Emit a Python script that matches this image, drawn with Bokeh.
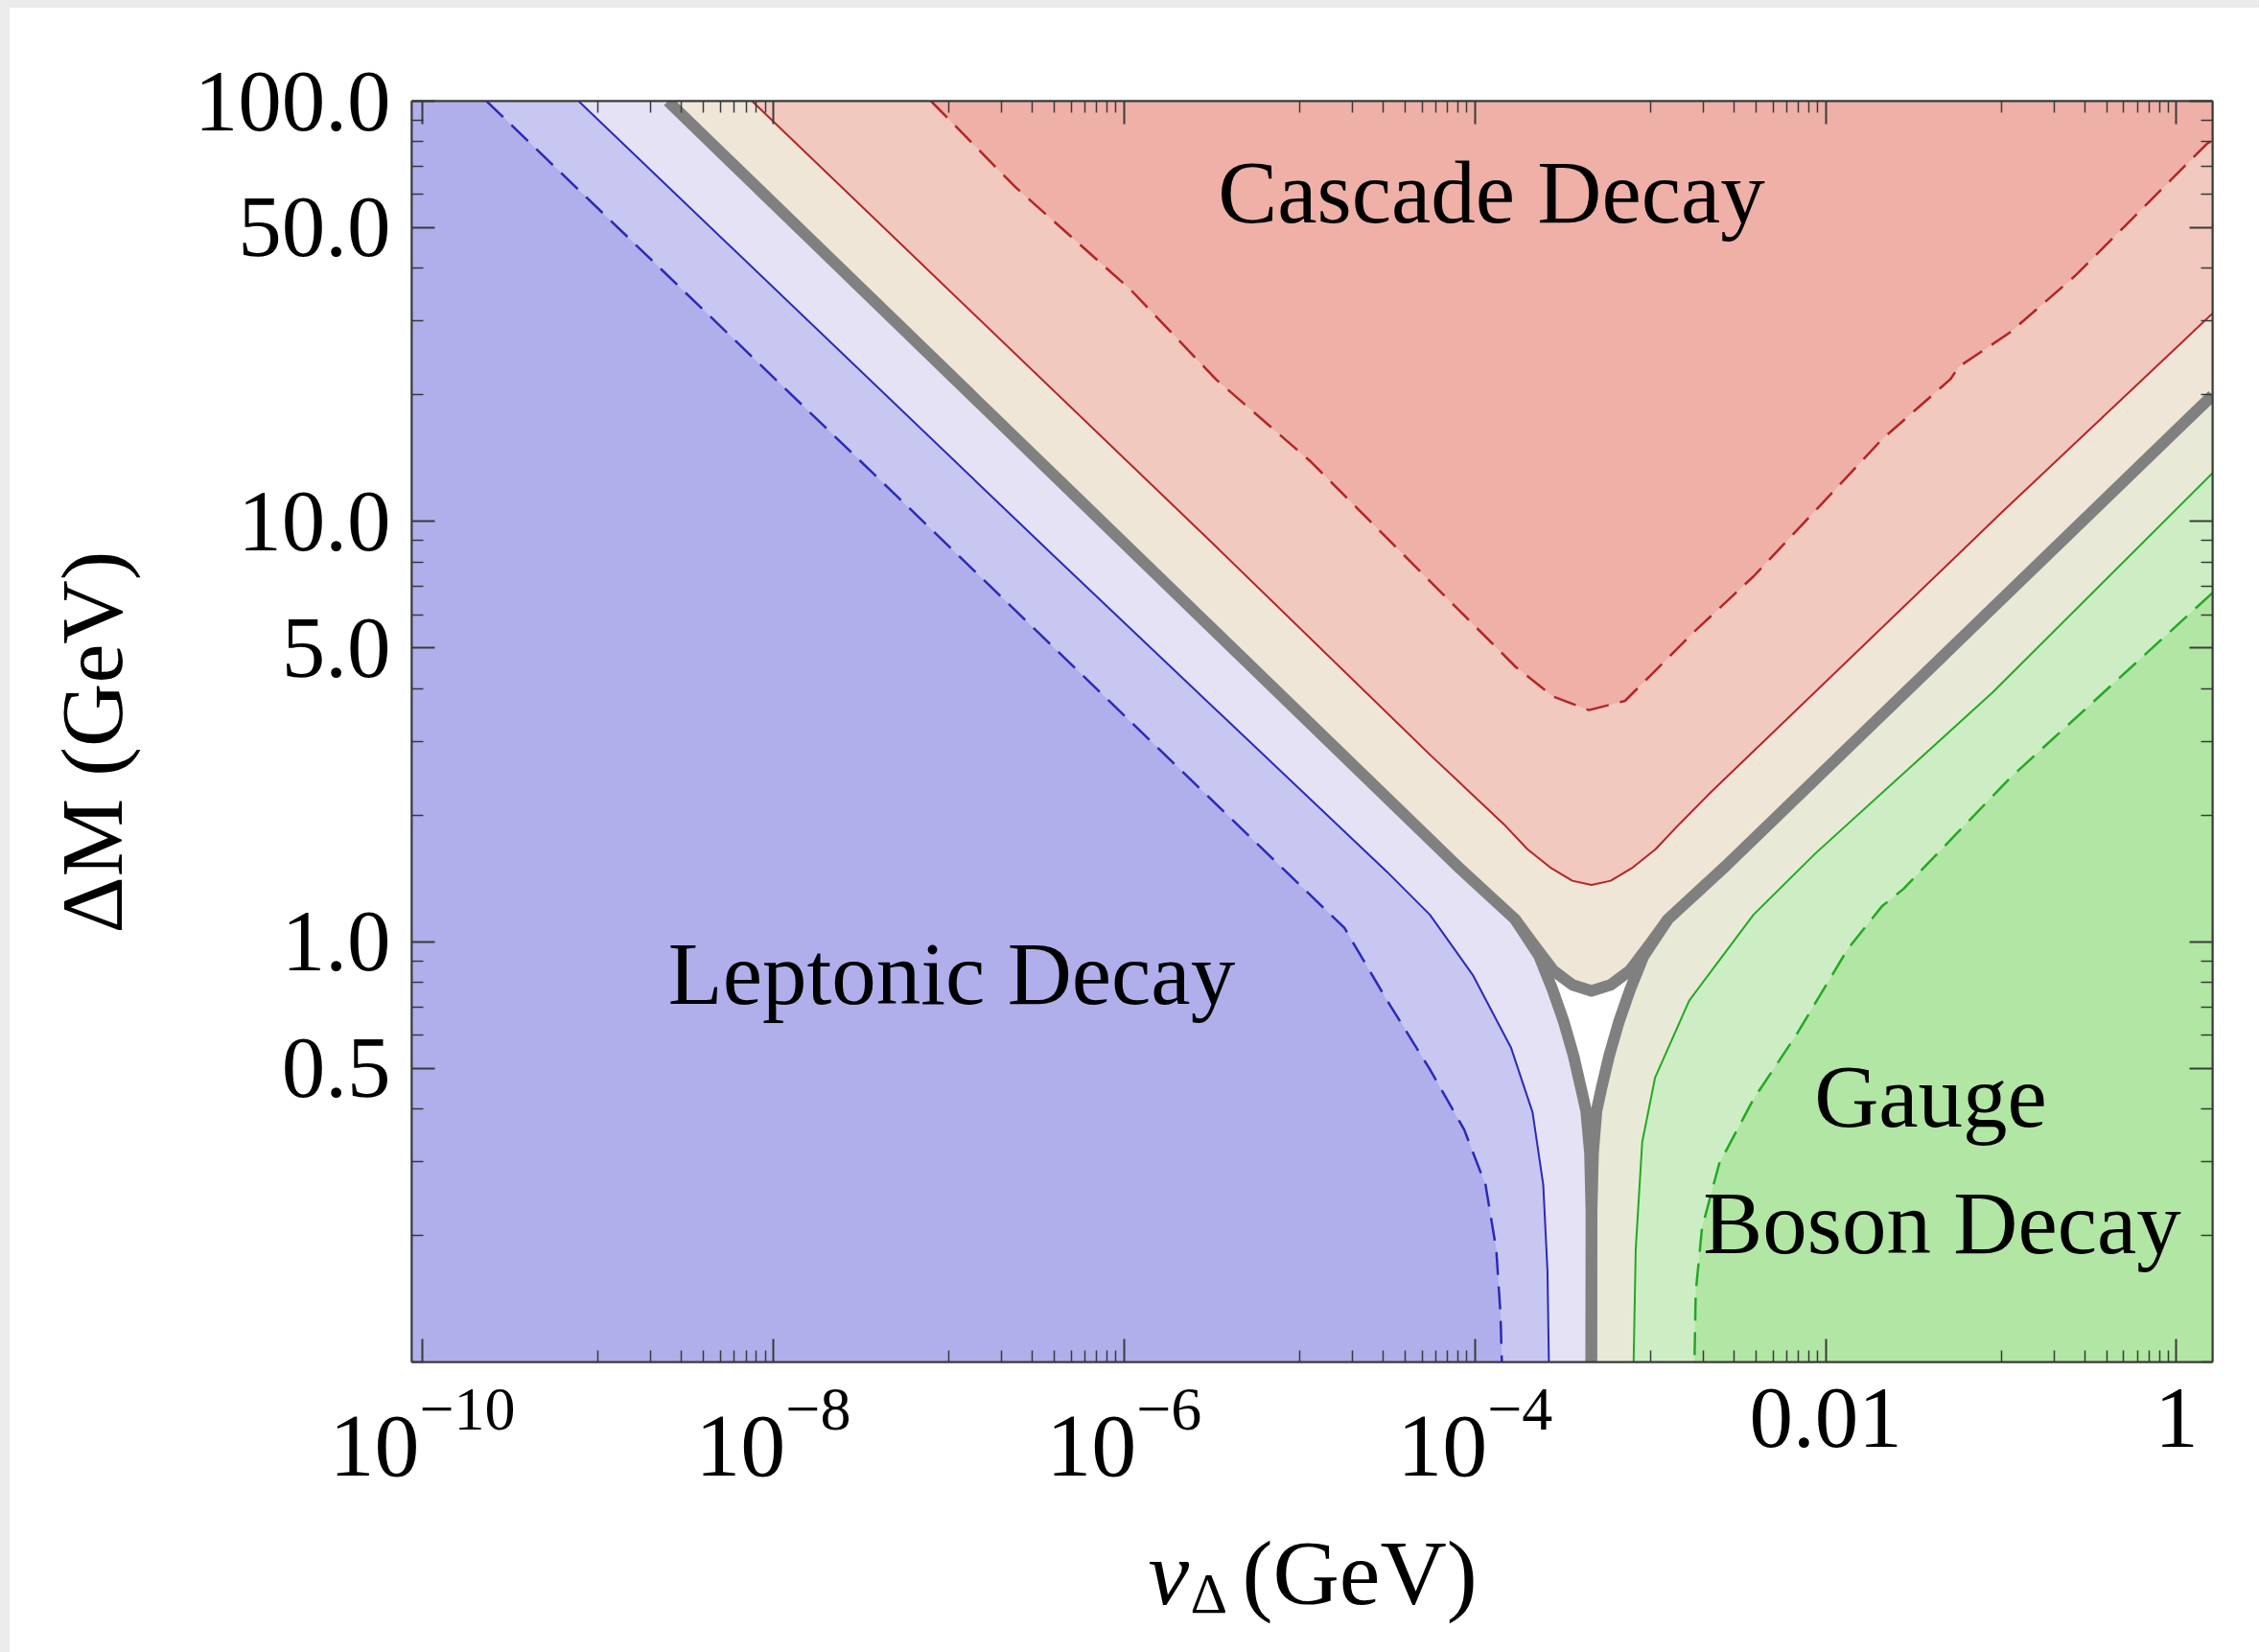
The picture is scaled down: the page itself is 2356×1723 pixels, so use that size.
import math
from bokeh.plotting import figure
from bokeh.models import Range1d, FixedTicker, LogAxis, Label, Spacer, CustomJSTickFormatter
from bokeh.core.properties import value
from bokeh.layouts import column, row
from bokeh.embed import file_html
from bokeh.resources import INLINE

# ---------------------------------------------------------------------------
# Branching-ratio contours of the doubly charged scalar, given as
# (log10 v_Delta / GeV, log10 Delta M / GeV) along each curve.
# ---------------------------------------------------------------------------
# leptonic decay: dashed (higher level) and solid contour
LEP_DASH_X = [-9.634, -7.200, -4.744, -4.500, -4.256, -4.061, -3.939, -3.878, -3.854, -3.846]
LEP_DASH_Y = [2.0, 1.022, 0.033, -0.140, -0.304, -0.447, -0.579, -0.732, -0.885, -1.0]
LEP_SOLID_X = [-9.109, -6.393, -4.500, -4.256, -4.012, -3.793, -3.671, -3.610, -3.586, -3.578]
LEP_SOLID_Y = [2.0, 0.915, 0.166, 0.064, -0.079, -0.253, -0.406, -0.579, -0.783, -1.0]

# cascade decay: solid and dashed contour
CAS_SOLID_X = [-8.12, -5.50, -4.256, -3.836, -3.70, -3.565, -3.444, -3.335,
               -3.226, -3.105, -2.97, -2.834, -2.656, -1.0, 0.205]
CAS_SOLID_Y = [2.0, 0.95, 0.445, 0.280, 0.220, 0.175, 0.145, 0.135,
               0.145, 0.175, 0.220, 0.280, 0.355, 1.02, 1.495]
CAS_DASH_X = [-7.10, -6.623, -5.964, -5.476, -4.940, -4.500, -4.012, -3.768, -3.552,
              -3.350, -3.144, -2.998, -2.754, -2.412, -2.022, -1.680, -1.290, -1.241, -0.948,
              -0.582, -0.289, 0.174, 0.205]
CAS_DASH_Y = [2.0, 1.797, 1.552, 1.338, 1.144, 0.960, 0.756, 0.654, 0.583,
              0.551, 0.573, 0.634, 0.736, 0.869, 1.042, 1.195, 1.338, 1.368, 1.450,
              1.583, 1.705, 1.899, 1.906]

# gauge boson decay: solid and dashed contour
GAU_SOLID_X = [0.205, -1.046, -2.059, -2.412, -2.778, -2.973, -3.046, -3.083, -3.095]
GAU_SOLID_Y = [1.115, 0.594, 0.210, 0.064, -0.140, -0.324, -0.477, -0.732, -1.0]
GAU_DASH_X = [0.205, -0.948, -1.558, -1.680, -1.875, -2.168, -2.412, -2.607,
              -2.705, -2.741, -2.748]
GAU_DASH_Y = [0.830, 0.390, 0.125, 0.084, -0.018, -0.222, -0.375, -0.528,
              -0.681, -0.834, -1.0]

# 50% lines of the three channels (thick grey)
GRAY_L_ARM_X = [-8.60, -4.10, -3.77]
GRAY_L_ARM_Y = [2.0, 0.18, 0.053]
GRAY_L_STEM_X = [-3.634, -3.557, -3.492, -3.437, -3.394, -3.366, -3.344, -3.336, -3.336]
GRAY_L_STEM_Y = [-0.034, -0.114, -0.192, -0.272, -0.350, -0.402, -0.503, -0.640, -1.0]
GRAY_CAP_X = [-3.77, -3.661, -3.552, -3.443, -3.335, -3.227, -3.117, -3.008, -2.90]
GRAY_CAP_Y = [0.053, -0.009, -0.069, -0.103, -0.117, -0.103, -0.069, -0.009, 0.053]
GRAY_R_ARM_X = [0.205, -2.57, -2.90]
GRAY_R_ARM_Y = [1.30, 0.18, 0.053]
GRAY_R_STEM_X = [-3.038, -3.115, -3.180, -3.235, -3.279, -3.306, -3.326, -3.334, -3.336]
GRAY_R_STEM_Y = [-0.034, -0.114, -0.192, -0.272, -0.350, -0.402, -0.503, -0.640, -1.0]

# axes
LOGV_MIN, LOGV_MAX = -10.06, 0.205
M_MIN, M_MAX = 0.1, 100.0
X_TICKS = [1e-10, 1e-8, 1e-6, 1e-4, 1e-2, 1.0]
X_TICK_BASE = ["10", "10", "10", "10", "0.01", "1"]
X_TICK_EXP = ["\u221210", "\u22128", "\u22126", "\u22124", "", ""]
X_MINOR = [j * 10.0 ** k for k in (-9, -7, -5, -3, -1) for j in range(1, 10)]
Y_TICKS = [0.5, 1.0, 5.0, 10.0, 50.0, 100.0]
Y_TICK_TEXT = ["0.5", "1.0", "5.0", "10.0", "50.0", "100.0"]
Y_MINOR = [j * 10.0 ** k for k in (-1, 0, 1) for j in range(1, 10) if j not in (1, 5)] + [0.1]

# ---------------------------------------------------------------------------
# page geometry (pixels)
PAGE_W, PAGE_H = 2356, 1723
EDGE_L, EDGE_T = 10, 8
TITLE_W = 160                 # strip holding the vertical axis title
MAIN_B = 1424                 # lower edge of the main figure
FRAME_L, FRAME_T, FRAME_R, FRAME_B = 429, 105, 2307, 1420
PX_PER_DEC_X = (FRAME_R - FRAME_L) / (LOGV_MAX - LOGV_MIN)
FONT = "Liberation Serif"


def drop(size):
    # distance the renderer places an alphabetic baseline below its anchor
    return 0.2 * size + 13


def tick_page_x(t):
    return FRAME_L + (math.log10(t) - LOGV_MIN) * PX_PER_DEC_X


def xdata(px):
    return 10 ** (LOGV_MIN + (px - FRAME_L) / PX_PER_DEC_X)


def ydata(py):
    lo, hi = math.log10(M_MIN), math.log10(M_MAX)
    return 10 ** (hi - (py - FRAME_T) * (hi - lo) / (FRAME_B - FRAME_T))


def lin(seq):
    return [10 ** s for s in seq]


FAR_L, FAR_R, FAR_B, FAR_T = -11.5, 1.0, -1.5, 2.5


def left_of(cx, cy):
    return cx + [cx[-1], FAR_L, FAR_L, cx[0]], cy + [FAR_B, FAR_B, FAR_T, FAR_T]


def above(cx, cy):
    return cx + [FAR_R, FAR_R, cx[0]], cy + [cy[-1], FAR_T, FAR_T]


def right_of(cx, cy):
    return cx + [cx[-1], FAR_R, FAR_R], cy + [FAR_B, FAR_B, cy[0]]


main_x0 = EDGE_L + TITLE_W
main = figure(width=PAGE_W - main_x0, height=MAIN_B - EDGE_T, x_axis_type="log", y_axis_type="log",
              x_range=Range1d(10 ** LOGV_MIN, 10 ** LOGV_MAX), y_range=Range1d(M_MIN, M_MAX),
              output_backend="svg", toolbar_location=None,
              min_border_left=FRAME_L - main_x0, min_border_right=PAGE_W - FRAME_R,
              min_border_top=FRAME_T - EDGE_T, min_border_bottom=MAIN_B - FRAME_B)
main.background_fill_color = "white"
main.border_fill_color = "white"
main.outline_line_color = "#3a3a3a"
main.outline_line_width = 2
main.xgrid.visible = False
main.ygrid.visible = False

# --- shaded regions --------------------------------------------------------
gray_left_x = GRAY_L_ARM_X + GRAY_L_STEM_X
gray_left_y = GRAY_L_ARM_Y + GRAY_L_STEM_Y
gray_right_x = GRAY_R_ARM_X + GRAY_R_STEM_X
gray_right_y = GRAY_R_ARM_Y + GRAY_R_STEM_Y
cas_edge_x = GRAY_L_ARM_X + GRAY_CAP_X[1:-1] + GRAY_R_ARM_X[::-1]
cas_edge_y = GRAY_L_ARM_Y + GRAY_CAP_Y[1:-1] + GRAY_R_ARM_Y[::-1]

regions = [
    (left_of(gray_left_x, gray_left_y), "#e4e2f4"),
    (left_of(LEP_SOLID_X, LEP_SOLID_Y), "#c8c7f1"),
    (left_of(LEP_DASH_X, LEP_DASH_Y), "#b0afec"),
    (above(cas_edge_x, cas_edge_y), "#f0e6d8"),
    (above(CAS_SOLID_X, CAS_SOLID_Y), "#f1c9be"),
    (above(CAS_DASH_X, CAS_DASH_Y), "#efb0a7"),
    (right_of(gray_right_x, gray_right_y), "#e8ead7"),
    (right_of(GAU_SOLID_X, GAU_SOLID_Y), "#cdeec4"),
    (right_of(GAU_DASH_X, GAU_DASH_Y), "#b2e6a4"),
]
for (rx, ry), col in regions:
    main.patch(lin(rx), lin(ry), fill_color=col, line_color=None)

# --- contour lines -----------------------------------------------------------
BLUE, RED, GREEN, GREY = "#2a2ab8", "#b42525", "#23a823", "#808080"
main.line(lin(LEP_DASH_X), lin(LEP_DASH_Y), line_color=BLUE, line_width=2.5, line_dash="24 12")
main.line(lin(LEP_SOLID_X), lin(LEP_SOLID_Y), line_color=BLUE, line_width=2)
main.line(lin(CAS_DASH_X), lin(CAS_DASH_Y), line_color=RED, line_width=2.5, line_dash="24 12")
main.line(lin(CAS_SOLID_X), lin(CAS_SOLID_Y), line_color=RED, line_width=2)
main.line(lin(GAU_DASH_X), lin(GAU_DASH_Y), line_color=GREEN, line_width=2.5, line_dash="24 12")
main.line(lin(GAU_SOLID_X), lin(GAU_SOLID_Y), line_color=GREEN, line_width=2)
for gx, gy in ((gray_left_x, gray_left_y), (gray_right_x, gray_right_y), (GRAY_CAP_X, GRAY_CAP_Y)):
    main.line(lin(gx), lin(gy), line_color=GREY, line_width=12, line_join="round")

# --- axes and frame ticks ----------------------------------------------------
TICK_COL = "#3a3a3a"
blank = CustomJSTickFormatter(code="return ''")


def style_axis(ax, ticker, labels=False):
    ax.ticker = ticker
    ax.axis_line_color = TICK_COL
    ax.axis_line_width = 2
    ax.major_tick_line_color = TICK_COL
    ax.major_tick_line_width = 2
    ax.minor_tick_line_color = TICK_COL
    ax.minor_tick_line_width = 1.5
    ax.major_tick_in = 24
    ax.major_tick_out = 0
    ax.minor_tick_in = 12
    ax.minor_tick_out = 0
    if not labels:
        ax.formatter = blank
        ax.major_label_standoff = 0
        ax.major_label_text_font_size = "1px"


style_axis(main.xaxis[0], FixedTicker(ticks=X_TICKS, minor_ticks=X_MINOR))
style_axis(main.yaxis[0], FixedTicker(ticks=Y_TICKS, minor_ticks=Y_MINOR), labels=True)
yax = main.yaxis[0]
yax.major_label_overrides = {t: s for t, s in zip(Y_TICKS, Y_TICK_TEXT)}
yax.major_label_text_font = FONT
yax.major_label_text_font_size = "91px"
yax.major_label_text_color = "black"
yax.major_label_standoff = 22

top_ax = LogAxis()
style_axis(top_ax, FixedTicker(ticks=X_TICKS, minor_ticks=X_MINOR))
main.add_layout(top_ax, "above")
right_ax = LogAxis()
style_axis(right_ax, FixedTicker(ticks=Y_TICKS, minor_ticks=Y_MINOR))
main.add_layout(right_ax, "right")

# region names (centre x, baseline y in page pixels)
REGION_FS = 93
for txt, cx, by in (("Cascade Decay", 1555, 232), ("Leptonic Decay", 992, 1047),
                    ("Gauge", 2013, 1175), ("Boson Decay", 2025, 1307)):
    main.add_layout(Label(x=xdata(cx), y=ydata(by - drop(REGION_FS)), text=txt,
                          text_align="center", text_baseline="alphabetic", text_font=FONT,
                          text_font_size=f"{REGION_FS}px", text_color="black"))


# --- text strips around the frame (page-pixel coordinates, y pointing down) ---
def text_strip(x0, x1, y0, y1):
    f = figure(width=x1 - x0, height=y1 - y0, x_range=Range1d(x0, x1), y_range=Range1d(-y1, -y0),
               output_backend="svg", toolbar_location=None,
               x_axis_location=None, y_axis_location=None, min_border=0)
    f.outline_line_color = None
    f.background_fill_color = "white"
    f.border_fill_color = "white"
    f.xgrid.visible = False
    f.ygrid.visible = False
    return f


def put(f, xs, base_y, texts, size, align="left", style="normal"):
    y = -(base_y - drop(size))
    f.text(x=xs, y=[y] * len(xs), text=texts,
           text_font=value(FONT), text_font_size=value(f"{size}px"), text_font_style=style,
           text_align=align, text_baseline="alphabetic", text_color="black")


left_strip = text_strip(EDGE_L, main_x0, EDGE_T, MAIN_B)
left_strip.text(x=[95], y=[-728], text=["\u0394M (GeV)"], angle=math.pi / 2,
                text_font=value(FONT), text_font_size=value("92px"),
                text_align="center", text_baseline="alphabetic", text_color="black")

bottom_strip = text_strip(EDGE_L, PAGE_W, MAIN_B, PAGE_H)

# x tick labels, with raised exponents
PLAIN_FS, BASE_FS, SUP_FS = 91, 94, 64
plain_x, plain_t, base_x, base_t, sup_x, sup_t = [], [], [], [], [], []
for t, base, exp in zip(X_TICKS, X_TICK_BASE, X_TICK_EXP):
    tx = tick_page_x(t)
    if exp:
        base_w = 0.5 * len(base) * BASE_FS
        exp_w = (0.564 + 0.5 * (len(exp) - 1)) * SUP_FS
        x0 = tx - (base_w + exp_w) / 2
        base_x.append(x0)
        base_t.append(base)
        sup_x.append(x0 + base_w)
        sup_t.append(exp)
    else:
        plain_x.append(tx)
        plain_t.append(base)
put(bottom_strip, plain_x, 1510, plain_t, PLAIN_FS, align="center")
put(bottom_strip, base_x, 1540, base_t, BASE_FS)
put(bottom_strip, sup_x, 1495, sup_t, SUP_FS)

# horizontal axis title: v with subscript Delta
put(bottom_strip, [1197], 1672, ["v"], 96, style="italic")
put(bottom_strip, [1241], 1686, ["\u0394"], 60)
put(bottom_strip, [1295], 1672, ["(GeV)"], 96)

# light grey page edge along the top and left
BAND = {"background-color": "#ebebeb"}
top_band = Spacer(width=PAGE_W, height=EDGE_T, styles=BAND)
side_band_a = Spacer(width=EDGE_L, height=MAIN_B - EDGE_T, styles=BAND)
side_band_b = Spacer(width=EDGE_L, height=PAGE_H - MAIN_B, styles=BAND)
p = column(top_band,
           row(side_band_a, left_strip, main),
           row(side_band_b, bottom_strip))

open("out.html", "w").write(file_html(p, INLINE))
